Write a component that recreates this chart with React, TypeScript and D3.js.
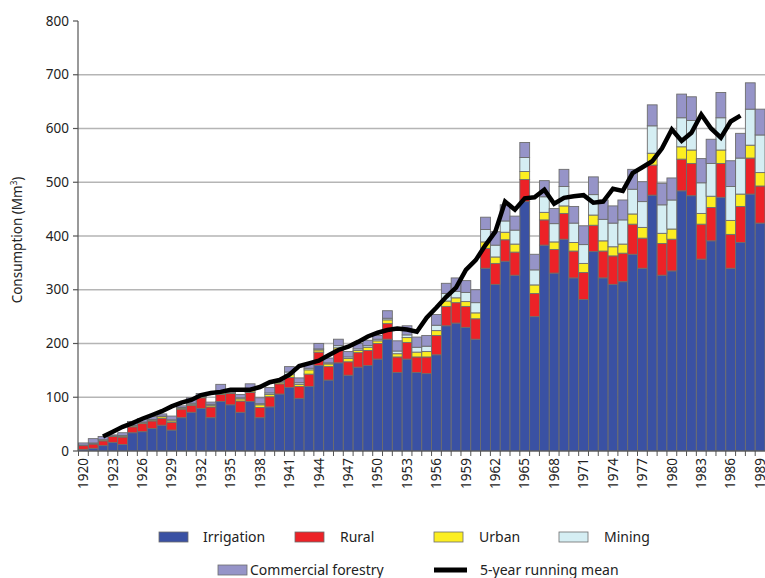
import React from "react";
import * as d3 from "d3";

const years = [
  1920, 1921, 1922, 1923, 1924, 1925, 1926, 1927, 1928, 1929,
  1930, 1931, 1932, 1933, 1934, 1935, 1936, 1937, 1938, 1939,
  1940, 1941, 1942, 1943, 1944, 1945, 1946, 1947, 1948, 1949,
  1950, 1951, 1952, 1953, 1954, 1955, 1956, 1957, 1958, 1959,
  1960, 1961, 1962, 1963, 1964, 1965, 1966, 1967, 1968, 1969,
  1970, 1971, 1972, 1973, 1974, 1975, 1976, 1977, 1978, 1979,
  1980, 1981, 1982, 1983, 1984, 1985, 1986, 1987, 1988, 1989,
];

const irrigation = [
  3, 5, 10, 16, 12, 34, 36, 42, 48, 39,
  62, 72, 79, 62, 92, 86, 72, 92, 62, 82,
  106, 118, 98, 120, 159, 132, 164, 141, 156, 159,
  171, 208, 146, 171, 146, 144, 179, 233, 238, 230,
  208, 340, 310, 353, 327, 464, 250, 383, 331, 394,
  322, 282, 371, 322, 310, 315, 366, 340, 476, 327,
  335, 484, 475, 357, 391, 472, 340, 388, 478, 424,
];
const rural = [
  7, 8, 9, 11, 14, 11, 15, 14, 13, 14,
  16, 13, 20, 20, 13, 21, 21, 17, 19, 19,
  19, 19, 22, 23, 25, 25, 24, 25, 27, 28,
  29, 29, 29, 31, 29, 31, 36, 36, 38, 39,
  38, 37, 39, 40, 43, 41, 43, 47, 44, 48,
  50, 50, 49, 50, 53, 53, 56, 56, 56, 59,
  59, 59, 60, 65, 62, 63, 63, 67, 67, 69,
];
const urban = [
  1, 1, 2, 1, 2, 2, 2, 2, 3, 3,
  2, 2, 2, 3, 3, 2, 4, 3, 5, 4,
  3, 5, 4, 8, 4, 5, 4, 6, 4, 6,
  5, 7, 6, 9, 9, 10, 9, 10, 9, 9,
  11, 12, 12, 14, 15, 15, 16, 14, 14, 14,
  16, 17, 19, 19, 17, 17, 19, 20, 22, 19,
  19, 23, 25, 20, 21, 25, 26, 23, 24, 25,
];
const mining = [
  0, 1, 0, 0, 1, 1, 1, 1, 1, 2,
  1, 2, 1, 2, 4, 1, 2, 4, 2, 3,
  2, 5, 3, 3, 2, 2, 4, 3, 3, 3,
  3, 3, 5, 5, 9, 10, 10, 14, 12, 17,
  19, 23, 22, 21, 26, 26, 28, 29, 34, 36,
  36, 35, 38, 40, 44, 45, 46, 48, 51, 53,
  54, 54, 55, 57, 61, 60, 63, 67, 67, 70,
];
const forestry = [
  4, 8, 6, 2, 5, 7, 6, 5, 4, 7,
  3, 10, 5, 4, 12, 4, 6, 9, 11, 10,
  3, 10, 9, 8, 10, 9, 12, 10, 10, 10,
  7, 14, 19, 17, 19, 20, 20, 19, 25, 22,
  24, 23, 25, 30, 26, 28, 29, 30, 28, 32,
  31, 35, 33, 36, 32, 37, 37, 37, 39, 40,
  41, 44, 44, 45, 45, 47, 48, 46, 49, 48,
];

// 5-year running mean as drawn (1922..1987)
const meanYears = [
  1922, 1923, 1924, 1925, 1926, 1927, 1928, 1929, 1930, 1931,
  1932, 1933, 1934, 1935, 1936, 1937, 1938, 1939, 1940, 1941,
  1942, 1943, 1944, 1945, 1946, 1947, 1948, 1949, 1950, 1951,
  1952, 1953, 1954, 1955, 1956, 1957, 1958, 1959, 1960, 1961,
  1962, 1963, 1964, 1965, 1966, 1967, 1968, 1969, 1970, 1971,
  1972, 1973, 1974, 1975, 1976, 1977, 1978, 1979, 1980, 1981,
  1982, 1983, 1984, 1985, 1986, 1987,
];
const runningMean = [
  27, 36, 45, 52, 60, 67, 74, 83, 90, 95,
  104, 108, 110, 114, 114, 114, 119, 128, 132, 142,
  158, 163, 168, 178, 188, 194, 203, 213, 220, 225,
  228, 226, 222, 248, 267, 287, 304, 337, 355, 383,
  408, 464, 449, 470, 472, 486, 460, 471, 474, 476,
  462, 464, 488, 484, 517, 528, 539, 563, 598, 577,
  592, 626, 600, 583, 613, 624,
];

const yTicks = [0, 100, 200, 300, 400, 500, 600, 700, 800];
const seriesKeys = ["Irrigation", "Rural", "Urban", "Mining", "Commercial forestry"];
const seriesValues = [irrigation, rural, urban, mining, forestry];
const seriesColors = ["#3a51a3", "#ec2227", "#fcee21", "#d5eef3", "#9694c8"];
const meanLabel = "5-year running mean";

const W = 765;
const H = 578;

export default function App() {
  const x = d3.scaleBand<number>().domain(years).range([78.5, 765]).padding(0);
  const y = d3.scaleLinear().domain([0, 800]).range([451, 21]);

  const rows = years.map((yr, i) => {
    const r: any = { year: yr };
    seriesKeys.forEach((k, j) => (r[k] = seriesValues[j][i]));
    return r;
  });
  const stacked = d3.stack<any>().keys(seriesKeys)(rows);

  const line = d3
    .line<number>()
    .x((_, i) => (x(meanYears[i]) as number) + x.bandwidth() / 2)
    .y((v) => y(v))
    .curve(d3.curveLinear);

  const labelYears = years.filter((yr) => (yr - 1920) % 3 === 0);
  const font = "'Noto Sans', 'Open Sans', sans-serif";

  const legendRow1 = [
    { i: 0, sx: 159, tx: 203 },
    { i: 1, sx: 295, tx: 340 },
    { i: 2, sx: 434, tx: 479 },
    { i: 3, sx: 559, tx: 604 },
  ];

  return (
    <svg
      width={W}
      height={H}
      style={{ position: "absolute", left: 0, top: 0, background: "#fff" }}
      fontFamily={font}
    >
      {/* gridlines */}
      {yTicks.filter((t) => t > 0 && t < 800).map((t) => (
        <line key={"g" + t} x1={78} x2={765} y1={y(t)} y2={y(t)} stroke="#b5b5b5" strokeWidth={1.3} />
      ))}

      {/* bars */}
      {stacked.map((s, j) => (
        <g key={s.key} fill={seriesColors[j]} stroke="#6d6d6d" strokeWidth={0.9}>
          {s.map((d, i) =>
            d[1] - d[0] > 0 ? (
              <rect
                key={i}
                x={x(years[i]) as number}
                width={x.bandwidth()}
                y={y(d[1])}
                height={y(d[0]) - y(d[1])}
              />
            ) : null
          )}
        </g>
      ))}

      {/* running mean */}
      <path d={line(runningMean) || ""} fill="none" stroke="#000" strokeWidth={4.5} strokeLinejoin="miter" />

      {/* y axis */}
      <line x1={78} x2={78} y1={y(800)} y2={y(0)} stroke="#555" strokeWidth={1.2} />
      {yTicks.map((t) => (
        <g key={"yt" + t}>
          <line x1={73} x2={78} y1={y(t)} y2={y(t)} stroke="#555" strokeWidth={1.2} />
          <text x={69} y={y(t)} dy="0.35em" textAnchor="end" fontSize={13.5} fill="#222">
            {t}
          </text>
        </g>
      ))}
      <text
        transform={`translate(22,${y(400) + 4}) rotate(-90)`}
        textAnchor="middle"
        fontSize={13.5}
        fill="#222"
      >
        Consumption (Mm<tspan dy="-5" fontSize={8}>3</tspan>
        <tspan dy="5">)</tspan>
      </text>

      {/* x axis */}
      <line x1={78} x2={765} y1={y(0)} y2={y(0)} stroke="#555" strokeWidth={1.2} />
      {years.map((yr) => (
        <line
          key={"xt" + yr}
          x1={x(yr) as number}
          x2={x(yr) as number}
          y1={y(0)}
          y2={y(0) + 5}
          stroke="#555"
          strokeWidth={1}
        />
      ))}
      {labelYears.map((yr) => (
        <text
          key={"xl" + yr}
          transform={`translate(${(x(yr) as number) + x.bandwidth() / 2},${y(0) + 7}) rotate(-90)`}
          textAnchor="end"
          dy="0.35em"
          fontSize={13.5}
          fill="#222"
        >
          {yr}
        </text>
      ))}

      {/* legend */}
      {legendRow1.map((l) => (
        <g key={"lg" + l.i}>
          <rect x={l.sx} y={532} width={29} height={10} fill={seriesColors[l.i]} stroke="#6d6d6d" strokeWidth={0.8} />
          <text x={l.tx} y={541.5} fontSize={14} fill="#222">
            {seriesKeys[l.i]}
          </text>
        </g>
      ))}
      <rect x={218} y={565} width={29} height={10} fill={seriesColors[4]} stroke="#6d6d6d" strokeWidth={0.8} />
      <text x={250} y={575} fontSize={14} fill="#222">
        {seriesKeys[4]}
      </text>
      <line x1={434} x2={467} y1={570} y2={570} stroke="#000" strokeWidth={5} />
      <text x={480} y={575} fontSize={14} fill="#222">
        {meanLabel}
      </text>
    </svg>
  );
}
